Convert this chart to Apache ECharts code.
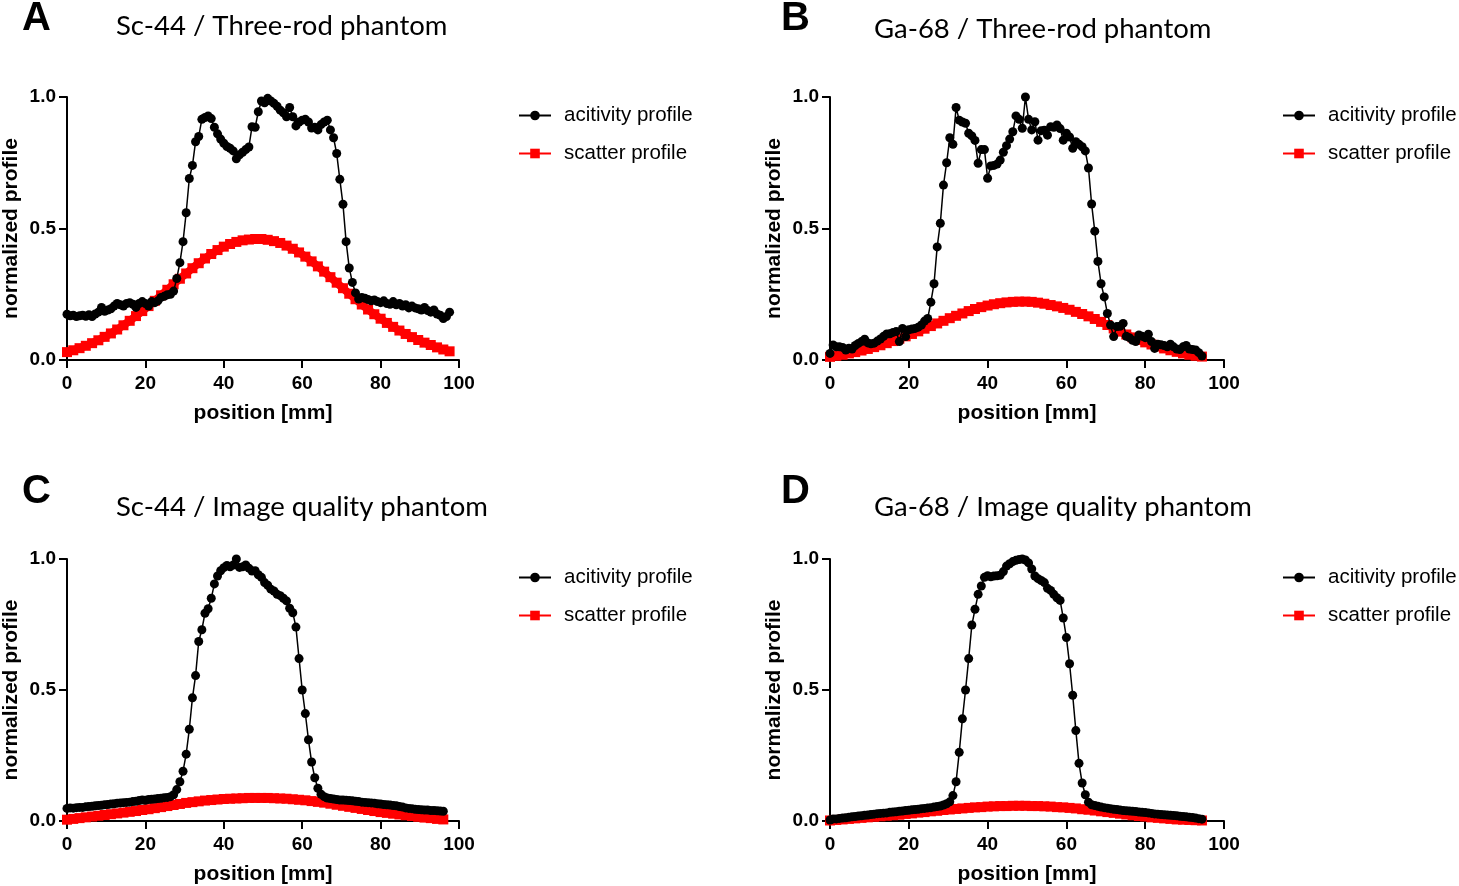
<!DOCTYPE html>
<html>
<head>
<meta charset="utf-8">
<script src="https://cdn.jsdelivr.net/npm/echarts@6/dist/echarts.min.js"></script>
<style>
html,body{margin:0;padding:0;background:#fff;}
#chart{width:1459px;height:886px;}
</style>
</head>
<body>
<div id="chart"></div>
<script>
// ---------------- data ----------------
const panelLetters = ['A', 'B', 'C', 'D'];
const panelTitles = ['Sc-44 / Three-rod phantom', 'Ga-68 / Three-rod phantom', 'Sc-44 / Image quality phantom', 'Ga-68 / Image quality phantom'];
const seriesNames = ['acitivity profile', 'scatter profile'];
const xTicks = [0, 20, 40, 60, 80, 100];
const yTicks = [0, 0.5, 1.0];
const activityStep = 0.8;  // mm between activity samples
const scatterStep = 1.6;   // mm between plotted scatter samples

const activityA = [0.174,0.168,0.170,0.165,0.168,0.170,0.166,0.172,0.165,0.175,0.182,0.200,0.185,0.190,0.195,0.205,0.215,0.210,0.205,0.215,0.218,0.212,0.200,0.215,0.222,0.215,0.205,0.222,0.218,0.225,0.238,0.242,0.248,0.250,0.262,0.310,0.370,0.450,0.560,0.690,0.740,0.830,0.850,0.915,0.922,0.928,0.918,0.885,0.860,0.840,0.824,0.812,0.805,0.795,0.765,0.780,0.790,0.800,0.810,0.887,0.885,0.944,0.985,0.978,0.995,0.985,0.976,0.965,0.950,0.940,0.925,0.960,0.925,0.890,0.905,0.912,0.915,0.905,0.882,0.885,0.875,0.895,0.905,0.912,0.875,0.845,0.785,0.687,0.592,0.450,0.350,0.295,0.255,0.232,0.238,0.235,0.230,0.225,0.228,0.222,0.218,0.225,0.215,0.212,0.222,0.210,0.215,0.205,0.210,0.198,0.205,0.198,0.195,0.190,0.200,0.188,0.182,0.190,0.175,0.170,0.158,0.165,0.182];
const scatterA = [0.030,0.037,0.045,0.054,0.064,0.075,0.088,0.101,0.116,0.132,0.149,0.167,0.186,0.205,0.225,0.246,0.267,0.288,0.309,0.329,0.349,0.368,0.386,0.403,0.418,0.431,0.441,0.449,0.455,0.458,0.460,0.460,0.457,0.452,0.445,0.435,0.423,0.409,0.393,0.375,0.356,0.336,0.315,0.294,0.273,0.252,0.231,0.211,0.192,0.174,0.157,0.141,0.126,0.112,0.099,0.087,0.076,0.066,0.057,0.048,0.040,0.033];

const activityB = [0.025,0.057,0.050,0.050,0.048,0.038,0.045,0.042,0.055,0.063,0.070,0.079,0.065,0.062,0.064,0.072,0.080,0.090,0.099,0.100,0.105,0.108,0.070,0.120,0.089,0.115,0.118,0.120,0.125,0.133,0.148,0.158,0.220,0.290,0.430,0.520,0.665,0.750,0.845,0.820,0.960,0.912,0.905,0.900,0.862,0.852,0.835,0.748,0.800,0.800,0.691,0.738,0.740,0.745,0.760,0.790,0.815,0.840,0.868,0.928,0.915,0.881,1.000,0.915,0.875,0.906,0.836,0.872,0.874,0.855,0.887,0.885,0.894,0.880,0.836,0.862,0.848,0.805,0.830,0.820,0.811,0.795,0.730,0.593,0.490,0.375,0.290,0.240,0.177,0.133,0.089,0.127,0.128,0.139,0.090,0.085,0.075,0.070,0.095,0.090,0.085,0.098,0.070,0.044,0.060,0.058,0.055,0.050,0.060,0.050,0.042,0.040,0.050,0.055,0.042,0.040,0.038,0.028,0.015];
const scatterB = [0.012,0.016,0.020,0.025,0.030,0.036,0.042,0.049,0.056,0.064,0.072,0.081,0.090,0.099,0.109,0.119,0.129,0.139,0.149,0.159,0.168,0.177,0.186,0.194,0.201,0.207,0.212,0.216,0.219,0.221,0.222,0.222,0.221,0.218,0.214,0.209,0.204,0.198,0.191,0.183,0.175,0.166,0.156,0.145,0.133,0.120,0.108,0.097,0.086,0.076,0.067,0.059,0.051,0.044,0.037,0.031,0.025,0.020,0.016,0.013];

const activityC = [0.048,0.050,0.049,0.051,0.052,0.052,0.054,0.055,0.056,0.058,0.059,0.060,0.062,0.063,0.065,0.066,0.068,0.069,0.070,0.071,0.072,0.074,0.075,0.078,0.080,0.079,0.082,0.083,0.084,0.086,0.087,0.089,0.090,0.093,0.100,0.120,0.150,0.190,0.255,0.350,0.470,0.555,0.685,0.730,0.793,0.810,0.850,0.905,0.935,0.955,0.967,0.975,0.970,0.977,1.000,0.968,0.970,0.977,0.965,0.954,0.955,0.940,0.930,0.910,0.900,0.885,0.878,0.865,0.860,0.850,0.840,0.812,0.795,0.740,0.620,0.500,0.410,0.310,0.225,0.165,0.125,0.102,0.093,0.088,0.086,0.084,0.082,0.080,0.080,0.079,0.078,0.077,0.075,0.074,0.072,0.071,0.070,0.069,0.068,0.066,0.065,0.063,0.062,0.061,0.059,0.058,0.055,0.053,0.050,0.048,0.047,0.045,0.044,0.043,0.042,0.042,0.040,0.040,0.039,0.038,0.037];
const scatterC = [0.005,0.008,0.011,0.014,0.017,0.020,0.023,0.026,0.029,0.032,0.035,0.038,0.042,0.045,0.049,0.053,0.057,0.061,0.065,0.069,0.072,0.075,0.078,0.080,0.082,0.084,0.085,0.086,0.087,0.088,0.088,0.088,0.088,0.087,0.086,0.085,0.083,0.081,0.079,0.076,0.073,0.070,0.066,0.062,0.058,0.054,0.050,0.046,0.042,0.038,0.034,0.031,0.028,0.025,0.022,0.019,0.016,0.013,0.011,0.008,0.006];

const activityD = [0.004,0.008,0.008,0.010,0.011,0.012,0.014,0.016,0.017,0.019,0.020,0.022,0.023,0.025,0.026,0.028,0.029,0.030,0.031,0.033,0.034,0.035,0.037,0.038,0.040,0.041,0.043,0.044,0.045,0.047,0.048,0.050,0.051,0.053,0.055,0.057,0.061,0.066,0.073,0.097,0.150,0.262,0.390,0.500,0.620,0.748,0.808,0.865,0.897,0.930,0.936,0.932,0.935,0.936,0.938,0.952,0.973,0.982,0.990,0.995,0.998,1.000,0.996,0.985,0.962,0.935,0.925,0.918,0.910,0.888,0.880,0.865,0.852,0.842,0.775,0.700,0.600,0.480,0.345,0.220,0.145,0.100,0.072,0.062,0.059,0.056,0.053,0.051,0.049,0.047,0.045,0.044,0.042,0.040,0.039,0.038,0.037,0.036,0.034,0.033,0.032,0.031,0.029,0.027,0.026,0.025,0.024,0.023,0.022,0.021,0.020,0.018,0.017,0.016,0.014,0.013,0.011,0.009,0.007];
const scatterD = [0.002,0.004,0.006,0.008,0.010,0.012,0.014,0.016,0.018,0.020,0.022,0.024,0.027,0.029,0.032,0.034,0.037,0.039,0.042,0.044,0.046,0.048,0.050,0.052,0.053,0.055,0.056,0.057,0.057,0.058,0.058,0.058,0.057,0.057,0.056,0.055,0.053,0.052,0.050,0.048,0.045,0.043,0.040,0.037,0.034,0.031,0.028,0.025,0.022,0.019,0.017,0.014,0.012,0.010,0.008,0.006,0.005,0.004,0.003,0.002];

const activityData = [activityA, activityB, activityC, activityD];
const scatterData = [scatterA, scatterB, scatterC, scatterD];

// ---------------- layout ----------------
const grids = [
  {left: 66, top: 97, width: 393, height: 263},
  {left: 830, top: 97, width: 394, height: 263},
  {left: 66, top: 559, width: 393, height: 262},
  {left: 830, top: 559, width: 394, height: 262}
];
const letterPos = [[22, -1], [781, -1], [22, 472], [781, 472]];
const titlePos = [[116, 12], [874, 15], [116, 493], [874, 493]];
const legendPos = [[518, 105], [1282, 105], [518, 567], [1282, 567]];

function toPoints(arr, step) {
  return arr.map((v, i) => [Math.round(i * step * 100) / 100, v]);
}

const FONT = 'Arial, "Liberation Sans", sans-serif';

const titles = [];
panelLetters.forEach((L, k) => {
  titles.push({text: L, left: letterPos[k][0], top: letterPos[k][1], padding: 0,
    textStyle: {fontFamily: FONT, fontWeight: 'bold', fontSize: 40, color: '#000'}});
  titles.push({text: panelTitles[k], left: titlePos[k][0], top: titlePos[k][1], padding: 0,
    textStyle: {fontFamily: 'Lato, "Open Sans", sans-serif', fontWeight: 'normal', fontSize: 27.5, color: '#000'}});
});

const xAxes = grids.map((g, k) => ({
  type: 'value', gridIndex: k, min: xTicks[0], max: xTicks[xTicks.length - 1], interval: 20,
  name: 'position [mm]', nameLocation: 'middle', nameGap: 43,
  nameTextStyle: {fontFamily: FONT, fontWeight: 'bold', fontSize: 21, color: '#000'},
  axisLine: {show: true, onZero: false, lineStyle: {color: '#000', width: 2}},
  axisTick: {show: true, length: 8, lineStyle: {color: '#000', width: 2}},
  axisLabel: {fontFamily: FONT, fontWeight: 'bold', fontSize: 19, color: '#000', margin: 14},
  splitLine: {show: false}
}));
const yAxes = grids.map((g, k) => ({
  type: 'value', gridIndex: k, min: yTicks[0], max: yTicks[yTicks.length - 1], interval: 0.5,
  name: 'normalized profile', nameLocation: 'middle', nameGap: 45,
  nameTextStyle: {fontFamily: FONT, fontWeight: 'bold', fontSize: 21, color: '#000'},
  axisLine: {show: true, onZero: false, lineStyle: {color: '#000', width: 2}},
  axisTick: {show: true, length: 8, lineStyle: {color: '#000', width: 2}},
  axisLabel: {fontFamily: FONT, fontWeight: 'bold', fontSize: 19, color: '#000', margin: 11,
    formatter: v => v.toFixed(1)},
  splitLine: {show: false}
}));

const legends = legendPos.map(p => ({
  orient: 'vertical', left: p[0], top: p[1], itemWidth: 32, itemHeight: 12, itemGap: 17, padding: 0,
  data: seriesNames, selectedMode: false,
  textStyle: {fontFamily: FONT, fontSize: 20.5, color: '#000', padding: [0, 0, 0, 8]}
}));

const series = [];
grids.forEach((g, k) => {
  series.push({
    name: seriesNames[1], type: 'line', xAxisIndex: k, yAxisIndex: k,
    data: toPoints(scatterData[k], scatterStep),
    symbol: 'rect', symbolSize: 10, color: '#ff0000',
    itemStyle: {color: '#ff0000'},
    lineStyle: {color: '#ff0000', width: 8}, z: 2
  });
  series.push({
    name: seriesNames[0], type: 'line', xAxisIndex: k, yAxisIndex: k,
    data: toPoints(activityData[k], activityStep),
    symbol: 'circle', symbolSize: 9, color: '#000',
    itemStyle: {color: '#000'},
    lineStyle: {color: '#000', width: 1.5}, z: 3
  });
});

const chart = echarts.init(document.getElementById('chart'), null, {renderer: 'canvas'});
chart.setOption({
  animation: false,
  backgroundColor: '#fff',
  title: titles,
  grid: grids,
  xAxis: xAxes,
  yAxis: yAxes,
  legend: legends,
  series: series
});
</script>
</body>
</html>
